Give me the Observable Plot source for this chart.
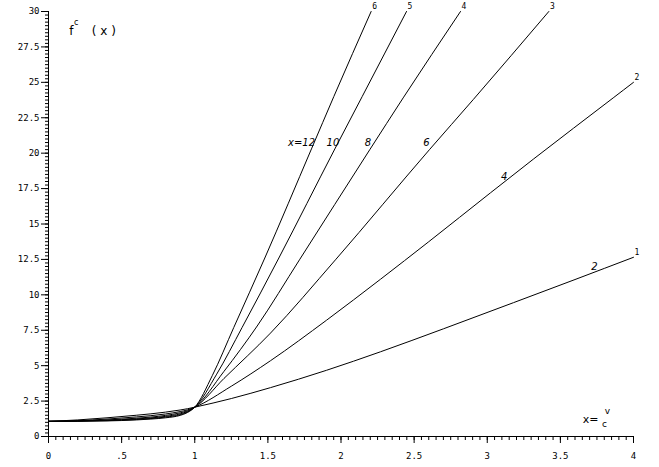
<!DOCTYPE html>
<html><head><meta charset="utf-8">
<script src="https://cdn.jsdelivr.net/npm/d3@7"></script>
<script src="https://cdn.jsdelivr.net/npm/@observablehq/plot@0.6"></script>
<style>body{margin:0;background:#fff} svg{display:block}</style>
</head><body><div id="chart"></div>
<script>
// curve ids (drawn at line ends) and the parameter labels drawn on the lines
const curveIds = ["1", "2", "3", "4", "5", "6"];
const kappaLabels = ["2", "4", "6", "8", "10", "x=12"];

// x < 1 part, shared x values
const xLow = [0, 0.2, 0.4, 0.6, 0.7, 0.8, 0.9, 0.95, 1];
const yLow1 = [1.07, 1.17, 1.32, 1.5, 1.6, 1.72, 1.87, 1.96, 2.07];
const yLow2 = [1.07, 1.12, 1.23, 1.38, 1.47, 1.59, 1.76, 1.88, 2.07];
const yLow3 = [1.07, 1.1, 1.17, 1.29, 1.37, 1.49, 1.67, 1.82, 2.07];
const yLow4 = [1.07, 1.09, 1.14, 1.24, 1.31, 1.42, 1.6, 1.77, 2.07];
const yLow5 = [1.07, 1.08, 1.12, 1.2, 1.27, 1.37, 1.54, 1.73, 2.07];
const yLow6 = [1.07, 1.08, 1.1, 1.17, 1.23, 1.32, 1.49, 1.69, 2.07];

// x > 1 part, read per curve
const xHigh1 = [1.25, 1.518, 1.9, 2.27, 2.7, 3.18, 3.6, 4];
const yHigh1 = [2.68, 3.45, 4.67, 5.98, 7.6, 9.45, 11.08, 12.65];
const xHigh2 = [1.25, 1.518, 1.9, 2.27, 2.6, 3.022, 3.318, 3.861, 4];
const yHigh2 = [3.55, 5.35, 8.2, 11.1, 13.75, 17.2, 19.6, 23.9, 25.0];
const xHigh3 = [1.2, 1.518, 1.962, 2.605, 2.904, 3.421];
const yHigh3 = [4.1, 7.3, 12.47, 20.25, 23.78, 30];
const xHigh4 = [1.2, 1.427, 1.716, 2.197, 2.425, 2.817];
const yHigh4 = [4.6, 7.8, 12.47, 20.25, 23.9, 30];
const xHigh5 = [1.15, 1.324, 1.575, 1.958, 2.145, 2.448];
const yHigh5 = [4.4, 7.7, 12.6, 20.3, 24.0, 30];
const xHigh6 = [1.12, 1.267, 1.479, 1.798, 1.951, 2.206];
const yHigh6 = [4.3, 7.7, 12.6, 20.3, 24.0, 30];

// positions of the parameter labels (data units)
const kappaLabelX = [3.733, 3.116, 2.585, 2.185, 1.945, 1.73];
const kappaLabelY = [12.0, 18.36, 20.76, 20.76, 20.76, 20.76];

// ticks
const xTicks = [0, 0.5, 1, 1.5, 2, 2.5, 3, 3.5, 4];
const xTickLabels = ["0", ".5", "1", "1.5", "2", "2.5", "3", "3.5", "4"];
const yTicks = [0, 2.5, 5, 7.5, 10, 12.5, 15, 17.5, 20, 22.5, 25, 27.5, 30];
const yTickLabels = ["0", "2.5", "5", "7.5", "10", "12.5", "15", "17.5", "20", "22.5", "25", "27.5", "30"];
const xMinorStep = 0.05;
const yMinorStep = 0.25;

// axis titles
const yTitle = {f: "f", sup: "c", arg: "( x )"};
const yTitlePos = {fx: 0.157, fy: 28.62, sx: 0.19, sy: 29.2, ax: 0.378, ay: 28.62};
const xTitle = {lhs: "x=", num: "v", den: "c"};
const xTitlePos = {lx: 3.706, ly: 1.2, nx: 3.822, ny: 1.8, dx: 3.802, dy: 0.88};

const lowYs = [yLow1, yLow2, yLow3, yLow4, yLow5, yLow6];
const highXs = [xHigh1, xHigh2, xHigh3, xHigh4, xHigh5, xHigh6];
const highYs = [yHigh1, yHigh2, yHigh3, yHigh4, yHigh5, yHigh6];

const rows = [];
const ends = [];
const kLabels = [];
curveIds.forEach((id, k) => {
  const xs = xLow.concat(highXs[k]);
  const ys = lowYs[k].concat(highYs[k]);
  xs.forEach((x, i) => rows.push({curve: id, x, y: ys[i]}));
  ends.push({curve: id, x: xs[xs.length - 1], y: ys[ys.length - 1]});
  kLabels.push({text: kappaLabels[k], x: kappaLabelX[k], y: kappaLabelY[k]});
});

const xMinor = d3.range(0, 4 + 1e-9, xMinorStep).map(v => +v.toFixed(3));
const yMinor = d3.range(0, 30 + 1e-9, yMinorStep).map(v => +v.toFixed(3));

const mono = "DejaVu Sans Mono";
const sans = "DejaVu Sans";

const chart = Plot.plot({
  width: 659,
  height: 467,
  marginLeft: 48,
  marginRight: 26,
  marginTop: 11,
  marginBottom: 31,
  x: {domain: [0, 4], label: null},
  y: {domain: [0, 30], label: null},
  style: {fontFamily: mono, fontSize: "9px", color: "#000", background: "#fff"},
  marks: [
    Plot.axisX({ticks: xMinor, tickSize: 4, tickFormat: () => "", label: null}),
    Plot.axisX({ticks: xTicks, tickSize: 7, tickPadding: 9, label: null,
      tickFormat: d => xTickLabels[xTicks.indexOf(d)]}),
    Plot.axisY({ticks: yMinor, tickSize: 3, tickFormat: () => "", label: null}),
    Plot.axisY({ticks: yTicks, tickSize: 7, tickPadding: 2, label: null,
      tickFormat: d => yTickLabels[yTicks.indexOf(d)]}),
    Plot.ruleY([0], {stroke: "#000"}),
    Plot.ruleX([0], {stroke: "#000"}),
    Plot.line(rows, {x: "x", y: "y", z: "curve", stroke: "#000", strokeWidth: 1, curve: "monotone-x"}),
    Plot.text(ends, {x: "x", y: "y", text: "curve", dx: 3.5, dy: -5, fontSize: 8, fontFamily: mono}),
    Plot.text(kLabels, {x: "x", y: "y", text: "text", fontSize: 10, fontStyle: "italic", fontFamily: sans}),
    Plot.text([yTitle], {x: () => yTitlePos.fx, y: () => yTitlePos.fy, text: d => d.f, fontSize: 12, fontFamily: sans}),
    Plot.text([yTitle], {x: () => yTitlePos.sx, y: () => yTitlePos.sy, text: d => d.sup, fontSize: 8, fontFamily: sans}),
    Plot.text([yTitle], {x: () => yTitlePos.ax, y: () => yTitlePos.ay, text: d => d.arg, fontSize: 12, fontFamily: sans}),
    Plot.text([xTitle], {x: () => xTitlePos.lx, y: () => xTitlePos.ly, text: d => d.lhs, fontSize: 11, fontFamily: sans}),
    Plot.text([xTitle], {x: () => xTitlePos.nx, y: () => xTitlePos.ny, text: d => d.num, fontSize: 9, fontFamily: sans}),
    Plot.text([xTitle], {x: () => xTitlePos.dx, y: () => xTitlePos.dy, text: d => d.den, fontSize: 9, fontFamily: sans})
  ]
});
document.getElementById("chart").appendChild(chart);
</script>
</body></html>
